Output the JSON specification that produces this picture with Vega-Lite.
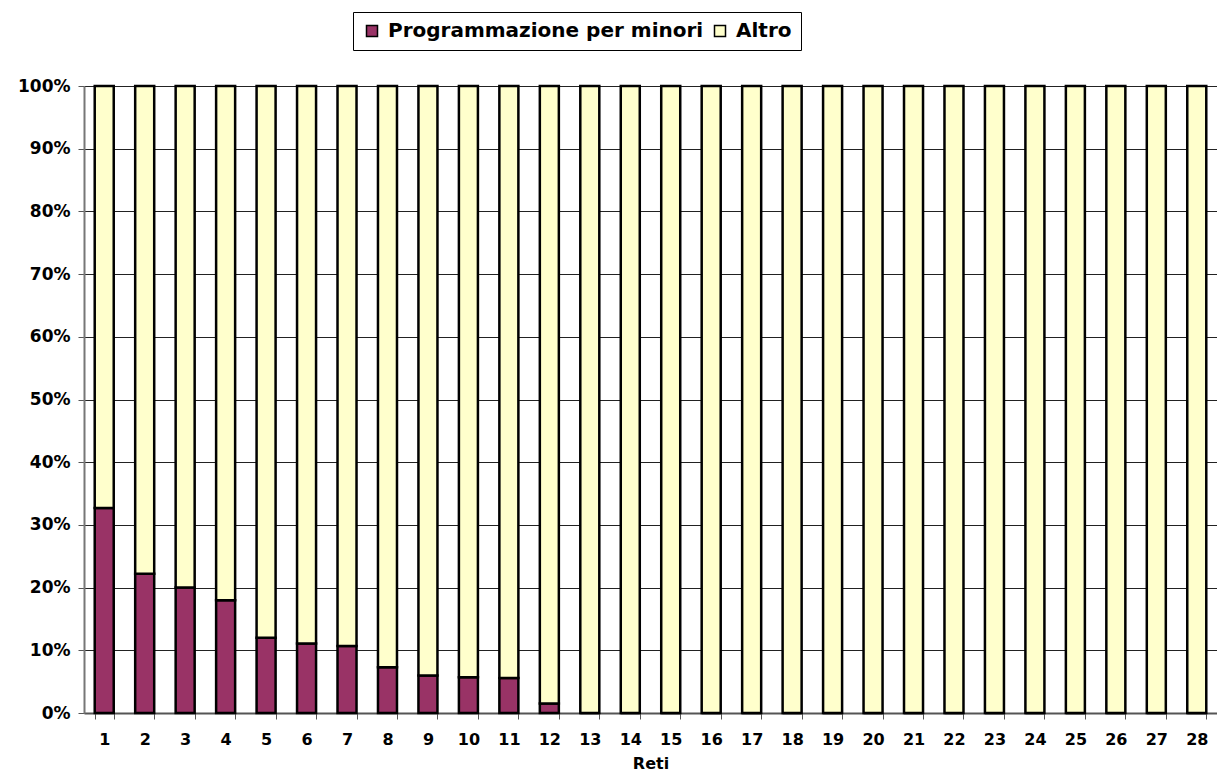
{
  "$schema": "https://vega.github.io/schema/vega-lite/v6.json",
  "width": 1133,
  "height": 627,
  "autosize": {"type": "none"},
  "padding": {"left": 84, "top": 86, "right": 0, "bottom": 61},
  "background": "white",
  "config": {
    "view": {"stroke": null},
    "font": "DejaVu Sans"
  },
  "data": {
    "values": [
      {"rete": 1, "serie": "Programmazione per minori", "valore": 32.7},
      {"rete": 1, "serie": "Altro", "valore": 67.3},
      {"rete": 2, "serie": "Programmazione per minori", "valore": 22.2},
      {"rete": 2, "serie": "Altro", "valore": 77.8},
      {"rete": 3, "serie": "Programmazione per minori", "valore": 20.0},
      {"rete": 3, "serie": "Altro", "valore": 80.0},
      {"rete": 4, "serie": "Programmazione per minori", "valore": 18.0},
      {"rete": 4, "serie": "Altro", "valore": 82.0},
      {"rete": 5, "serie": "Programmazione per minori", "valore": 12.0},
      {"rete": 5, "serie": "Altro", "valore": 88.0},
      {"rete": 6, "serie": "Programmazione per minori", "valore": 11.1},
      {"rete": 6, "serie": "Altro", "valore": 88.9},
      {"rete": 7, "serie": "Programmazione per minori", "valore": 10.7},
      {"rete": 7, "serie": "Altro", "valore": 89.3},
      {"rete": 8, "serie": "Programmazione per minori", "valore": 7.3},
      {"rete": 8, "serie": "Altro", "valore": 92.7},
      {"rete": 9, "serie": "Programmazione per minori", "valore": 6.0},
      {"rete": 9, "serie": "Altro", "valore": 94.0},
      {"rete": 10, "serie": "Programmazione per minori", "valore": 5.7},
      {"rete": 10, "serie": "Altro", "valore": 94.3},
      {"rete": 11, "serie": "Programmazione per minori", "valore": 5.6},
      {"rete": 11, "serie": "Altro", "valore": 94.4},
      {"rete": 12, "serie": "Programmazione per minori", "valore": 1.5},
      {"rete": 12, "serie": "Altro", "valore": 98.5},
      {"rete": 13, "serie": "Programmazione per minori", "valore": 0},
      {"rete": 13, "serie": "Altro", "valore": 100},
      {"rete": 14, "serie": "Programmazione per minori", "valore": 0},
      {"rete": 14, "serie": "Altro", "valore": 100},
      {"rete": 15, "serie": "Programmazione per minori", "valore": 0},
      {"rete": 15, "serie": "Altro", "valore": 100},
      {"rete": 16, "serie": "Programmazione per minori", "valore": 0},
      {"rete": 16, "serie": "Altro", "valore": 100},
      {"rete": 17, "serie": "Programmazione per minori", "valore": 0},
      {"rete": 17, "serie": "Altro", "valore": 100},
      {"rete": 18, "serie": "Programmazione per minori", "valore": 0},
      {"rete": 18, "serie": "Altro", "valore": 100},
      {"rete": 19, "serie": "Programmazione per minori", "valore": 0},
      {"rete": 19, "serie": "Altro", "valore": 100},
      {"rete": 20, "serie": "Programmazione per minori", "valore": 0},
      {"rete": 20, "serie": "Altro", "valore": 100},
      {"rete": 21, "serie": "Programmazione per minori", "valore": 0},
      {"rete": 21, "serie": "Altro", "valore": 100},
      {"rete": 22, "serie": "Programmazione per minori", "valore": 0},
      {"rete": 22, "serie": "Altro", "valore": 100},
      {"rete": 23, "serie": "Programmazione per minori", "valore": 0},
      {"rete": 23, "serie": "Altro", "valore": 100},
      {"rete": 24, "serie": "Programmazione per minori", "valore": 0},
      {"rete": 24, "serie": "Altro", "valore": 100},
      {"rete": 25, "serie": "Programmazione per minori", "valore": 0},
      {"rete": 25, "serie": "Altro", "valore": 100},
      {"rete": 26, "serie": "Programmazione per minori", "valore": 0},
      {"rete": 26, "serie": "Altro", "valore": 100},
      {"rete": 27, "serie": "Programmazione per minori", "valore": 0},
      {"rete": 27, "serie": "Altro", "valore": 100},
      {"rete": 28, "serie": "Programmazione per minori", "valore": 0},
      {"rete": 28, "serie": "Altro", "valore": 100}
    ]
  },
  "mark": {"type": "bar", "stroke": "black", "strokeWidth": 2.5},
  "encoding": {
    "x": {
      "field": "rete",
      "type": "ordinal",
      "title": "Reti",
      "scale": {"paddingInner": 0.53, "paddingOuter": 0.265},
      "axis": {
        "labelAngle": 0,
        "labelFont": "DejaVu Sans",
        "labelFontWeight": "bold",
        "labelFontSize": 16,
        "labelColor": "black",
        "labelPadding": 12,
        "tickBand": "extent",
        "tickSize": 6,
        "tickColor": "#555",
        "domainColor": "#555",
        "domainWidth": 2,
        "titleFont": "DejaVu Sans",
        "titleFontWeight": "bold",
        "titleFontSize": 16,
        "titleColor": "black",
        "titlePadding": 8
      }
    },
    "y": {
      "field": "valore",
      "type": "quantitative",
      "stack": "normalize",
      "title": null,
      "scale": {"domain": [0, 1]},
      "axis": {
        "format": ".0%",
        "values": [0, 0.1, 0.2, 0.3, 0.4, 0.5, 0.6, 0.7, 0.8, 0.9, 1],
        "labelOverlap": false,
        "labelFont": "DejaVu Sans",
        "labelFontWeight": "bold",
        "labelFontSize": 17,
        "labelColor": "black",
        "labelPadding": 8,
        "tickSize": 6,
        "tickColor": "#555",
        "domainColor": "#777",
        "domainWidth": 2,
        "grid": true,
        "gridColor": "#222",
        "gridWidth": 1
      }
    },
    "color": {
      "field": "serie",
      "type": "nominal",
      "scale": {
        "domain": ["Programmazione per minori", "Altro"],
        "range": ["#993366", "#FFFFCC"]
      },
      "legend": {
        "title": null,
        "orient": "none",
        "legendX": 269,
        "legendY": -74,
        "direction": "horizontal",
        "columns": 2,
        "symbolType": "square",
        "symbolSize": 121,
        "symbolStrokeColor": "black",
        "symbolStrokeWidth": 1.5,
        "labelFont": "DejaVu Sans",
        "labelFontWeight": "bold",
        "labelFontSize": 20,
        "labelColor": "black",
        "labelLimit": 500,
        "labelOffset": 6,
        "columnPadding": 6,
        "strokeColor": "black",
        "padding": 9,
        "fillColor": "white"
      }
    },
    "order": {"field": "serie", "sort": "descending"}
  }
}
